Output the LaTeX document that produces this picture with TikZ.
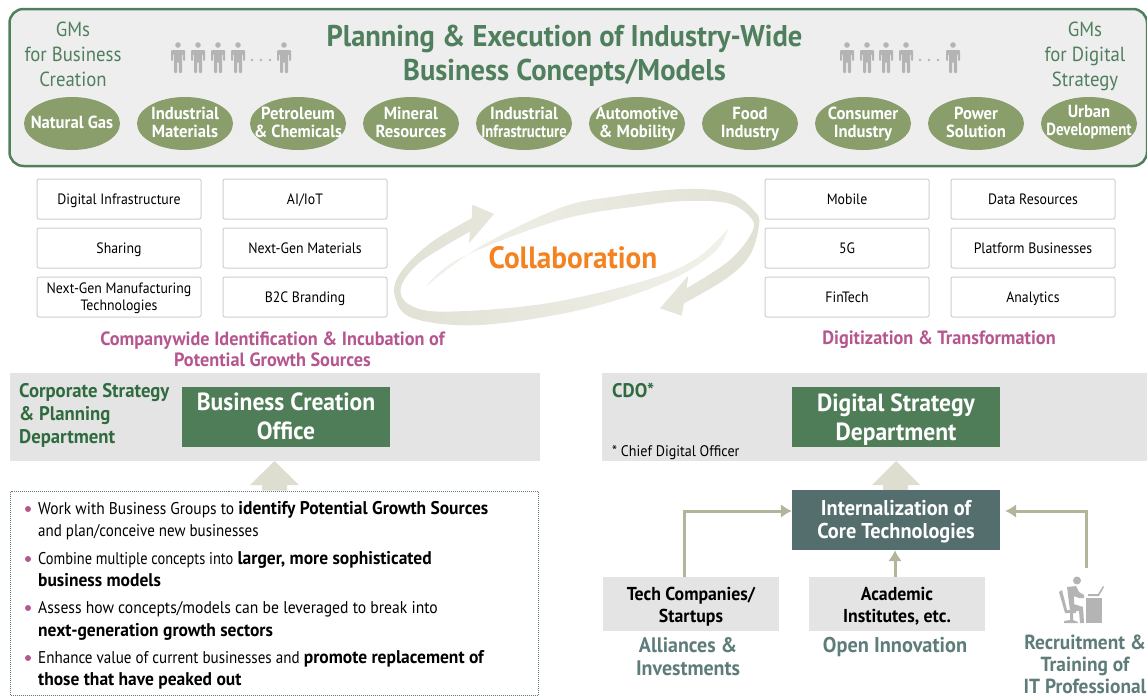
\documentclass[tikz,border=0pt]{standalone}
\usepackage{fontspec}
\setmainfont[FakeStretch=0.92,BoldFeatures={FakeStretch=0.95}]{PT Sans}
\usetikzlibrary{shapes.geometric,arrows.meta}
\definecolor{frameG}{HTML}{4F7F5C}
\definecolor{panel}{HTML}{EEEEEE}
\definecolor{oval}{HTML}{8A9E6C}
\definecolor{headG}{HTML}{4F7D58}
\definecolor{darkG}{HTML}{2F6B3F}
\definecolor{boxline}{HTML}{CFCFCF}
\definecolor{band}{HTML}{E4E4E4}
\definecolor{swirlA}{HTML}{E1E1D5}
\definecolor{swirlB}{HTML}{F1F1EA}
\definecolor{arrowB}{HTML}{DEDED0}
\definecolor{arrowL}{HTML}{B4B49A}
\definecolor{teal}{HTML}{546E6E}
\definecolor{tealT}{HTML}{5E7C7A}
\definecolor{mag}{HTML}{B5568F}
\definecolor{orangeT}{HTML}{F58220}
\definecolor{personG}{HTML}{B4B4B4}
\newcommand{\fs}[2]{\fontsize{#1}{#2}\selectfont}
\newcommand{\lb}[1]{{\bfseries\fontsize{18.4}{20}\selectfont #1}}
\newcommand{\nar}[2]{\scalebox{#1}[1]{#2}}
\newcommand{\sa}[1][1.3em]{\rule{0pt}{#1}}
\newcommand{\personfig}[1]{%
  \begin{scope}[shift={(#1,0)}]
    \fill[personG] (0,45) circle (2.8);
    \fill[personG,rounded corners=1] (-7,50) -- (7,50) -- (7,61) -- (5,61) -- (5,54) -- (4,54) -- (4,73) -- (0.8,73) -- (0.8,62) -- (-0.8,62) -- (-0.8,73) -- (-4,73) -- (-4,54) -- (-5,54) -- (-5,61) -- (-7,61) -- cycle;
  \end{scope}}
\tikzset{
  stx/.style 2 args={execute at begin node={\rule{0pt}{#1}},execute at end node={\rule[-#2]{0pt}{#2}}},
  st/.style={stx={1.3em}{.5em}},
  ovalbase/.style={ellipse,fill=oval,minimum width=96,minimum height=53,inner xsep=-30pt,inner ysep=-14pt,text=white,align=center,font=\bfseries\fs{17.5}{18}},
  ovalnode/.style={ovalbase,stx={1.22em}{.7em}},
  tagbox/.style={stx={1.24em}{.56em},draw=boxline,line width=1,rounded corners=2,fill=white,minimum width=164,minimum height=40,inner xsep=0,inner ysep=-12pt,align=center,font=\fs{15}{17}},
  gmtext/.style={st,text=frameG,align=center,inner sep=0,font=\fs{20.4}{25}},
  maghead/.style={st,text=mag,align=center,inner sep=0,font=\bfseries\fs{19.2}{21}},
  headbox/.style={fill=headG,minimum width=208,minimum height=60,inner xsep=0,inner ysep=-15pt,text=white,align=center,font=\bfseries\fs{24.8}{29}},
  dept/.style={st,text=darkG,align=left,inner sep=0,anchor=north west,font=\bfseries\fs{19.7}{23}},
  srcbox/.style={st,fill=band,minimum width=176,minimum height=54,inner xsep=0,inner ysep=-10pt,align=center,font=\bfseries\fs{18.7}{22}},
  srclabel/.style={st,text=tealT,align=center,inner sep=0,font=\bfseries\fs{21}{23}},
  listline/.style={stx={1.25em}{.55em},anchor=west,inner sep=0,font=\fs{17}{20}},
  bulletdot/.style={circle,fill=mag,minimum size=6,inner sep=0},
  thinarrow/.style={draw=arrowL,line width=3,-{Latex[length=11pt,width=14pt,color=arrowL]}},
  bigarrow/.style={fill=arrowB}
}
\begin{document}
\begin{tikzpicture}[x=1pt,y=-1pt]
\useasboundingbox (0,0) rectangle (1147,696);
\begin{scope}
\clip (0,0) rectangle (1147,696);
% top panel
\draw[draw=frameG,fill=panel,line width=2.5,rounded corners=14] (9.5,9) rectangle (1147,166);
\node[st,text=frameG,align=center,inner sep=0,font=\bfseries\fs{30}{34}] (title) at (564.5,51.5) {\sa Planning \& Execution of Industry-Wide\\Business Concepts/Models};
\node[gmtext] (gmL) at (73,53) {\sa GMs\\for Business\\Creation};
\node[gmtext] (gmR) at (1085,53) {\sa GMs\\for Digital\\Strategy};
\personfig{178}\personfig{198}\personfig{218}\personfig{238}\personfig{284}
\foreach \d in {252,261,270}{\fill[personG] (\d,60) circle (1.3);}
\personfig{847}\personfig{867}\personfig{886}\personfig{906}\personfig{953}
\foreach \d in {920,929,938}{\fill[personG] (\d,60) circle (1.3);}
\node[ovalnode] (o1) at (72,123.5) {Natural Gas};
\node[ovalnode] (o2) at (185,123.5) {\sa[1.22em]Industrial\\Materials};
\node[ovalnode] (o3) at (298,123.5) {\sa[1.22em]Petroleum\\\nar{.98}{\& Chemicals}};
\node[ovalnode] (o4) at (411,123.5) {\sa[1.22em]Mineral\\Resources};
\node[ovalnode] (o5) at (524,123.5) {\sa[1.22em]Industrial\\\nar{.88}{Infrastructure}};
\node[ovalnode] (o6) at (637,123.5) {\sa[1.22em]Automotive\\\& Mobility};
\node[ovalnode] (o7) at (750,123.5) {\sa[1.22em]Food\\Industry};
\node[ovalnode] (o8) at (863,123.5) {\sa[1.22em]Consumer\\Industry};
\node[ovalnode] (o9) at (976,123.5) {\sa[1.22em]Power\\Solution};
\node[ovalbase,stx={1em}{.7em}] (o10) at (1089,123.5) {\sa[1em]Urban\\\nar{.9}{Development}};
% tags
\node[tagbox] (t1) at (119,199) {Digital Infrastructure};
\node[tagbox] (t2) at (119,248) {Sharing};
\node[tagbox] (t3) at (119,297) {\sa[1.24em]Next-Gen Manufacturing\\Technologies};
\node[tagbox] (t4) at (305,199) {AI/IoT};
\node[tagbox] (t5) at (305,248) {Next-Gen Materials};
\node[tagbox] (t6) at (305,297) {B2C Branding};
\node[tagbox] (t7) at (847,199) {Mobile};
\node[tagbox] (t8) at (847,248) {5G};
\node[tagbox] (t9) at (847,297) {FinTech};
\node[tagbox] (t10) at (1033,199) {Data Resources};
\node[tagbox] (t11) at (1033,248) {Platform Businesses};
\node[tagbox] (t12) at (1033,297) {Analytics};
% swirl
\begin{scope}[shift={(380,190)},x=0.3333pt,y=-0.3333pt]
\shade[left color=swirlA,right color=swirlB]
  (267,160) -- (342,72) -- (277,44) -- (275,85)
  -- plot[smooth,tension=.6] coordinates {(275,85)(150,160)(60,250)(45,320)(100,385)(300,405)(600,360)(850,280)(1000,190)(1045,115)}
  -- plot[smooth,tension=.6] coordinates {(1045,115)(950,205)(800,270)(500,340)(200,365)(90,345)(62,295)(110,225)(200,165)(270,125)}
  -- cycle;
\shade[left color=swirlB,right color=swirlA]
  (138,290)
  -- plot[smooth,tension=.6] coordinates {(138,290)(300,170)(540,54)(700,20)(909,-3)(1050,10)(1125,65)(1137,105)(1110,195)(1040,265)(912,340)}
  -- (905,377) -- (840,355) -- (925,257) -- (920,295)
  -- plot[smooth,tension=.6] coordinates {(920,295)(1050,210)(1119,120)(1105,75)(1041,39)(921,33)(800,45)(540,90)(240,205)(138,290)}
  -- cycle;
\end{scope}
\node[st,text=orangeT,inner sep=0,font=\bfseries\fs{30.8}{34}] (collab) at (573,256) {Collaboration};
\node[maghead] (mL) at (272.5,348) {\sa Companywide Identification \& Incubation of\\Potential Growth Sources};
\node[maghead] (mR) at (939,337) {Digitization \& Transformation};
% bands
\fill[band] (10,373) rectangle (540,461);
\fill[band] (602,373) rectangle (1147,461);
\node[dept] (corp) at (19,372) {\sa Corporate Strategy\\\& Planning\\Department};
\node[dept] (cdo) at (612,372) {CDO*};
\node[st,anchor=west,inner sep=0,font=\fs{15.3}{17}] (chief) at (612,450) {* Chief Digital Officer};
\node[headbox,stx={1.22em}{.58em}] (bco) at (286,417) {\sa[1.22em]Business Creation\\Office};
\node[headbox,stx={1.3em}{.5em}] (dsd) at (896,417) {\sa[1.25em]Digital Strategy\\Department};
% big arrows
\fill[bigarrow] (274.5,461) -- (299,485) -- (287,485) -- (287,490.5) -- (262,490.5) -- (262,485) -- (250,485) -- cycle;
\fill[bigarrow] (896,461) -- (920,485) -- (908,485) -- (908,490) -- (883,490) -- (883,485) -- (872,485) -- cycle;
% list
\draw[draw=tealT,line width=1,dash pattern=on 1pt off 1pt] (10.5,491.5) rectangle (538,695.5);
\foreach \yy/\nm in {509/b1,559/b2,608/b3,658/b4}{\node[bulletdot] (\nm) at (28,\yy) {};}
\node[listline] (l1) at (38,509) {\nar{.99}{Work with Business Groups to} \lb{identify Potential Growth Sources}};
\node[listline] (l2) at (38,531) {\nar{.96}{and plan/conceive new businesses}};
\node[listline] (l3) at (38,559) {\nar{.92}{Combine multiple concepts into} \lb{larger, more sophisticated}};
\node[listline] (l4) at (38,581) {\lb{business models}};
\node[listline] (l5) at (38,608) {Assess how concepts/models can be leveraged to break into};
\node[listline] (l6) at (38,631) {\lb{next-generation growth sectors}};
\node[listline] (l7) at (38,658) {\nar{.964}{Enhance value of current businesses and} \lb{promote replacement of}};
\node[listline] (l8) at (38,680) {\lb{those that have peaked out}};
% right bottom
\node[stx={1.25em}{.55em},fill=teal,minimum width=208,minimum height=60,inner xsep=0,inner ysep=-10pt,text=white,align=center,font=\bfseries\fs{21.4}{23}] (core) at (896,520) {\sa[1.25em]Internalization of\\Core Technologies};
\node[srcbox] (tech) at (691,604) {\sa Tech Companies/\\Startups};
\node[srcbox] (acad) at (897,604) {\sa Academic\\Institutes, etc.};
\node[srclabel] (lab1) at (688,655.5) {\sa Alliances \&\\Investments};
\node[srclabel,font=\bfseries\fs{21.4}{23}] (lab2) at (895,644) {Open Innovation};
\node[srclabel,font=\bfseries\fs{20.4}{22}] (lab3) at (1085,663) {\sa Recruitment \&\\Training of\\IT Professional};
\coordinate (icontop) at (1086,568);
\draw[thinarrow] ([xshift=-7pt]tech.north) |- ([yshift=9pt]core.west);
\draw[thinarrow] ([xshift=-2pt]acad.north) -- ([xshift=-1pt]core.south);
\draw[thinarrow] (icontop) |- ([xshift=5pt,yshift=9pt]core.east);
% recruit icon
\begin{scope}[personG]
\fill (1077,580.5) circle (4);
\fill (1067,587) -- (1076,586) -- (1079,592) -- (1084,595) -- (1084,598) -- (1079,598) -- (1074,596) -- (1074,604) -- (1083,607) -- (1084,623) -- (1080,623) -- (1079,611) -- (1070,611) -- cycle;
\fill (1059,592) -- (1062,590) -- (1067,610) -- (1076,610) -- (1076,613) -- (1073,613) -- (1073,620) -- (1078,622) -- (1078,623) -- (1064,623) -- (1064,621) -- (1070,620) -- (1070,613) -- (1065,613) -- cycle;
\fill (1086,598) rectangle (1102,623);
\fill (1088,594) -- (1098,594) -- (1103,586) -- (1104,587) -- (1099,596) -- (1088,596) -- cycle;
\end{scope}
\end{scope}
\end{tikzpicture}
\end{document}
